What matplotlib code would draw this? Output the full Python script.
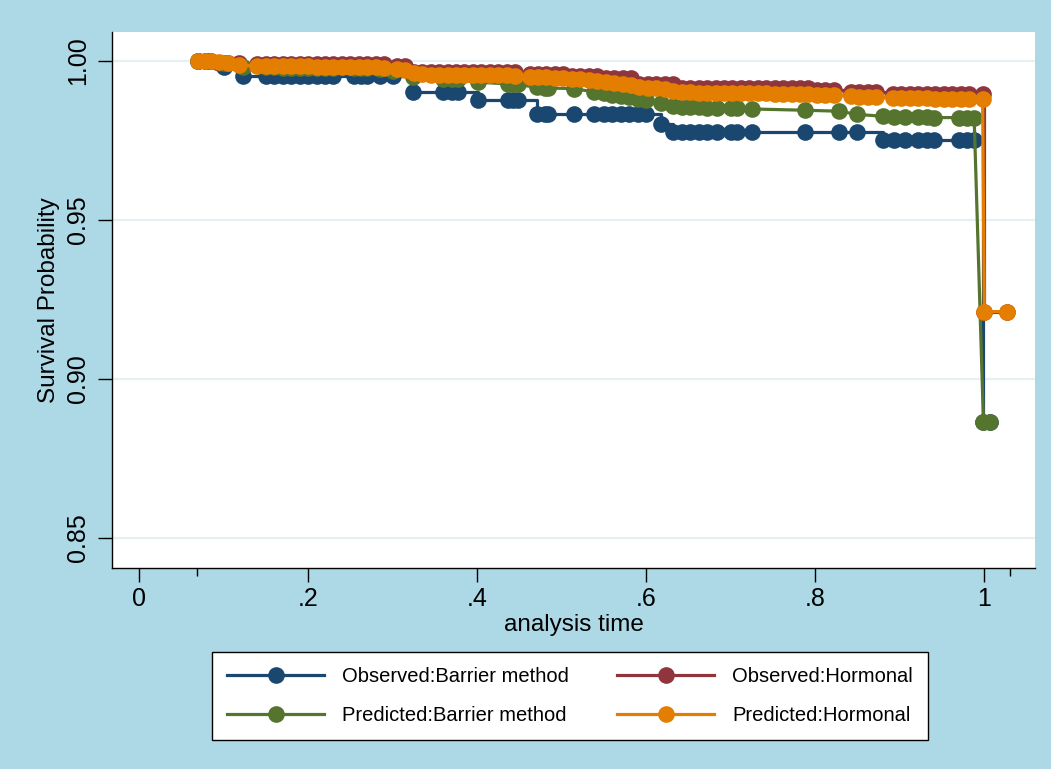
import matplotlib
matplotlib.use('Agg')
import matplotlib.pyplot as plt

# analysis times and survival estimates, barrier method group
t_bar = [0.070, 0.083, 0.100, 0.123, 0.150, 0.160, 0.170, 0.180, 0.190, 0.200,
         0.210, 0.220, 0.230, 0.254, 0.262, 0.270, 0.285, 0.300, 0.324, 0.360,
         0.370, 0.377, 0.401, 0.436, 0.443, 0.448, 0.471, 0.480, 0.484, 0.514,
         0.538, 0.550, 0.560, 0.570, 0.580, 0.590, 0.600, 0.617, 0.632, 0.642,
         0.652, 0.662, 0.672, 0.684, 0.700, 0.708, 0.725, 0.788, 0.828, 0.850,
         0.880, 0.893, 0.906, 0.922, 0.932, 0.941, 0.970, 0.980, 0.988, 0.999,
         1.007]
obs_bar = [1.0, 1.0, 0.9980, 0.9953, 0.9953, 0.9953, 0.9953, 0.9953, 0.9953, 0.9953,
           0.9953, 0.9953, 0.9953, 0.9953, 0.9953, 0.9953, 0.9953, 0.9953, 0.9903, 0.9903,
           0.9903, 0.9903, 0.9877, 0.9877, 0.9877, 0.9877, 0.9833, 0.9833, 0.9833, 0.9833,
           0.9833, 0.9833, 0.9833, 0.9833, 0.9833, 0.9833, 0.9833, 0.9802, 0.9777, 0.9777,
           0.9777, 0.9777, 0.9777, 0.9777, 0.9777, 0.9777, 0.9777, 0.9777, 0.9777, 0.9777,
           0.9752, 0.9752, 0.9752, 0.9752, 0.9752, 0.9752, 0.9752, 0.9752, 0.9752, 0.8866,
           0.8866]
pred_bar = [1.0, 1.0, 0.9994, 0.9982, 0.9980, 0.9980, 0.9979, 0.9979, 0.9979, 0.9978,
            0.9978, 0.9978, 0.9978, 0.9977, 0.9977, 0.9977, 0.9975, 0.9968, 0.9950, 0.9944,
            0.9943, 0.9942, 0.9933, 0.9928, 0.9927, 0.9926, 0.9917, 0.9916, 0.9915, 0.9913,
            0.9903, 0.9898, 0.9894, 0.9890, 0.9886, 0.9881, 0.9877, 0.9869, 0.9858, 0.9855,
            0.9854, 0.9854, 0.9853, 0.9853, 0.9852, 0.9851, 0.9849, 0.9845, 0.9842, 0.9832,
            0.9826, 0.9825, 0.9824, 0.9823, 0.9823, 0.9822, 0.9822, 0.9822, 0.9822, 0.8866,
            0.8866]

# hormonal group
t_hor = [0.070, 0.078, 0.085, 0.095, 0.105, 0.118,
         0.140, 0.150, 0.160, 0.170, 0.180, 0.190, 0.200, 0.210, 0.220, 0.230,
         0.240, 0.250, 0.260, 0.270, 0.280, 0.290,
         0.305, 0.315, 0.325, 0.335, 0.345, 0.355, 0.365, 0.375, 0.385, 0.395,
         0.405, 0.415, 0.425, 0.435, 0.445,
         0.462, 0.472, 0.482, 0.492, 0.502, 0.512, 0.522, 0.532, 0.542, 0.552,
         0.562, 0.572, 0.582, 0.592, 0.602, 0.612, 0.622, 0.632, 0.642, 0.652,
         0.662, 0.672, 0.682, 0.692, 0.702, 0.712, 0.722, 0.732, 0.742, 0.752,
         0.762, 0.772, 0.782, 0.792, 0.802, 0.812, 0.822,
         0.842, 0.852, 0.862, 0.872,
         0.892, 0.902, 0.912, 0.922, 0.932, 0.942, 0.952, 0.962, 0.972, 0.982,
         0.998, 1.000, 1.027]
obs_hor = [1.0, 1.0, 1.0, 0.9994, 0.9994, 0.9994,
           0.9989, 0.9989, 0.9989, 0.9989, 0.9989, 0.9989, 0.9989, 0.9989, 0.9989, 0.9989,
           0.9989, 0.9989, 0.9989, 0.9989, 0.9989, 0.9989,
           0.9983, 0.9983, 0.9966, 0.9966, 0.9966, 0.9966, 0.9966, 0.9966, 0.9966, 0.9966,
           0.9966, 0.9966, 0.9966, 0.9966, 0.9966,
           0.9958, 0.9958, 0.9958, 0.9958, 0.9958, 0.9952, 0.9952, 0.9952, 0.9952, 0.9945,
           0.9945, 0.9945, 0.9945, 0.9927, 0.9927, 0.9927, 0.9927, 0.9927, 0.9914, 0.9914,
           0.9914, 0.9914, 0.9914, 0.9914, 0.9914, 0.9914, 0.9914, 0.9914, 0.9914, 0.9914,
           0.9914, 0.9914, 0.9914, 0.9914, 0.9908, 0.9908, 0.9908,
           0.9902, 0.9902, 0.9902, 0.9902,
           0.9897, 0.9897, 0.9897, 0.9897, 0.9897, 0.9897, 0.9897, 0.9897, 0.9897, 0.9897,
           0.9897, 0.9212, 0.9212]
pred_hor = [1.0, 1.0, 1.0, 0.9996, 0.9993, 0.9988,
            0.9984, 0.9984, 0.9984, 0.9983, 0.9983, 0.9983, 0.9983, 0.9982, 0.9982, 0.9982,
            0.9982, 0.9981, 0.9981, 0.9981, 0.9980, 0.9978,
            0.9976, 0.9972, 0.9962, 0.9958, 0.9957, 0.9957, 0.9957, 0.9956, 0.9956, 0.9956,
            0.9956, 0.9955, 0.9955, 0.9955, 0.9954,
            0.9950, 0.9949, 0.9948, 0.9947, 0.9946, 0.9944, 0.9942, 0.9939, 0.9936, 0.9933,
            0.9930, 0.9927, 0.9923, 0.9919, 0.9916, 0.9914, 0.9911, 0.9907, 0.9903, 0.9901,
            0.9900, 0.9900, 0.9900, 0.9899, 0.9899, 0.9899, 0.9898, 0.9898, 0.9898, 0.9897,
            0.9897, 0.9897, 0.9896, 0.9895, 0.9894, 0.9893, 0.9892,
            0.9889, 0.9888, 0.9887, 0.9886,
            0.9884, 0.9883, 0.9883, 0.9882, 0.9882, 0.9881, 0.9881, 0.9881, 0.9880, 0.9880,
            0.9880, 0.9212, 0.9212]

x_ticks = [0, 0.2, 0.4, 0.6, 0.8, 1.0]
x_labels = ['0', '.2', '.4', '.6', '.8', '1']
x_extra = [0.069, 1.031]
y_ticks = [0.85, 0.90, 0.95, 1.00]
y_labels = ['0.85', '0.90', '0.95', '1.00']

NAVY = '#1a476f'
MAROON = '#90353b'
GREEN = '#55752f'
ORANGE = '#e37e00'
BG = '#add8e6'


def main():
    plt.rcParams['font.family'] = ['Liberation Sans', 'DejaVu Sans']

    fig = plt.figure(figsize=(10.51, 7.69), dpi=100, facecolor=BG)
    ax = fig.add_axes([112 / 1051, 1 - 568 / 769, 923 / 1051, 536 / 769])
    ax.set_facecolor('white')

    style = dict(marker='o', markersize=12, linewidth=2.3, markeredgewidth=0)
    h1, = ax.plot(t_bar, obs_bar, color=NAVY, drawstyle='steps-post',
                  label='Observed:Barrier method', **style)
    h2, = ax.plot(t_hor, obs_hor, color=MAROON, drawstyle='steps-post',
                  label='Observed:Hormonal', **style)
    h3, = ax.plot(t_bar, pred_bar, color=GREEN,
                  label='Predicted:Barrier method', **style)
    h4, = ax.plot(t_hor, pred_hor, color=ORANGE,
                  label='Predicted:Hormonal', **style)

    ax.set_xlim(-0.032, 1.060)
    ax.set_ylim(0.8406, 1.0091)

    ax.set_xticks(x_ticks)
    ax.set_xticklabels(x_labels, fontsize=18)
    ax.set_xticks(x_extra, minor=True)
    ax.set_yticks(y_ticks)
    ax.set_yticklabels(y_labels, fontsize=18, rotation=90, va='center')

    ax.tick_params(axis='both', which='major', length=10, width=1, color='black')
    ax.tick_params(axis='x', which='minor', length=6, width=1, color='black')
    ax.tick_params(axis='y', pad=6)
    ax.tick_params(axis='x', pad=4)

    ax.grid(axis='y', color='#e6eff1', linewidth=1.6)
    ax.set_axisbelow(True)

    for s in ['top', 'right']:
        ax.spines[s].set_visible(False)
    for s in ['left', 'bottom']:
        ax.spines[s].set_linewidth(1)
        ax.spines[s].set_color('black')

    ax.set_xlabel('analysis time', fontsize=17.5, labelpad=2)
    ax.set_ylabel('Survival Probability', fontsize=17.5, labelpad=4)

    leg = fig.legend([h1, h3, h2, h4],
                     [h1.get_label(), h3.get_label(), h2.get_label(), h4.get_label()],
                     ncol=2, loc='center', bbox_to_anchor=(570 / 1051, 1 - 696 / 769),
                     fontsize=14.5, handlelength=4.8, handletextpad=0.9,
                     columnspacing=2.4, labelspacing=0.95, borderpad=0.75,
                     borderaxespad=0, fancybox=False, framealpha=1,
                     edgecolor='black')
    leg.get_frame().set_linewidth(1)

    fig.savefig('out.png', dpi=100, facecolor=BG)


if __name__ == '__main__':
    main()
